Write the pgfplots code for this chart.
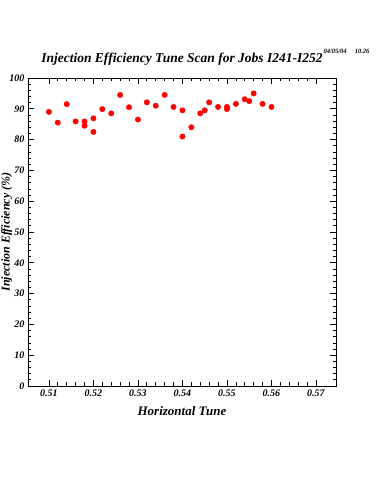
\documentclass[border=0pt]{standalone}
\usepackage{fontspec}
\setmainfont{Liberation Serif}
\usepackage{pgfplots}
\pgfplotsset{compat=1.18}
\begin{document}
\begin{tikzpicture}
\useasboundingbox (0,0) rectangle (375pt,500pt);
\begin{axis}[
  at={(28pt,114pt)}, anchor=south west,
  scale only axis, width=308pt, height=308pt,
  xmin=0.5053, xmax=0.5745, ymin=0, ymax=100,
  xtick={0.51,0.52,0.53,0.54,0.55,0.56,0.57},
  ytick={0,10,...,100},
  minor x tick num=4, minor y tick num=4,
  tick align=inside,
  major tick length=6pt, minor tick length=3.5pt,
  tick style={black, line width=0.7pt},
  axis line style={line width=0.9pt},
  xticklabel style={/pgf/number format/fixed, /pgf/number format/fixed zerofill, /pgf/number format/precision=2},
  scaled x ticks=false,
  /pgf/number format/assume math mode=true,
  ticklabel style={font=\fontsize{10}{11}\selectfont\bfseries\itshape},
  title={Injection Efficiency Tune Scan for Jobs I241-I252},
  title style={font=\fontsize{13.5}{15}\selectfont\bfseries\itshape, at={(axis description cs:0.5,1)}, anchor=south, yshift=3pt},
  xlabel={Horizontal Tune},
  xlabel style={font=\fontsize{13}{15}\selectfont\bfseries\itshape, at={(axis description cs:0.5,0)}, anchor=center, yshift=-25pt},
  ylabel={Injection Efficiency (\%)},
  ylabel style={font=\fontsize{12}{14}\selectfont\bfseries\itshape, at={(axis description cs:-0.069,0.5)}, anchor=center, rotate=0},
]
\addplot[only marks, mark=*, mark size=2.7pt, color=red] coordinates {
(0.510,89.0) (0.512,85.5) (0.514,91.5) (0.516,85.9) (0.518,85.9) (0.518,84.5)
(0.520,86.9) (0.520,82.5) (0.522,89.9) (0.524,88.5) (0.526,94.5) (0.528,90.5)
(0.530,86.5) (0.532,92.1) (0.534,91.0) (0.536,94.5) (0.538,90.6) (0.540,89.5)
(0.540,81.0) (0.542,84.0) (0.544,88.5) (0.545,89.5) (0.546,92.1) (0.548,90.6)
(0.550,90.6) (0.550,89.9) (0.552,91.6) (0.554,93.1) (0.555,92.5) (0.556,95.0)
(0.558,91.6) (0.560,90.6)
};
\end{axis}
\node[font=\fontsize{6.5}{7}\selectfont\bfseries\itshape, anchor=east] at (373pt,449pt) {04/05/04\quad\ 10.26};
\end{tikzpicture}
\end{document}
